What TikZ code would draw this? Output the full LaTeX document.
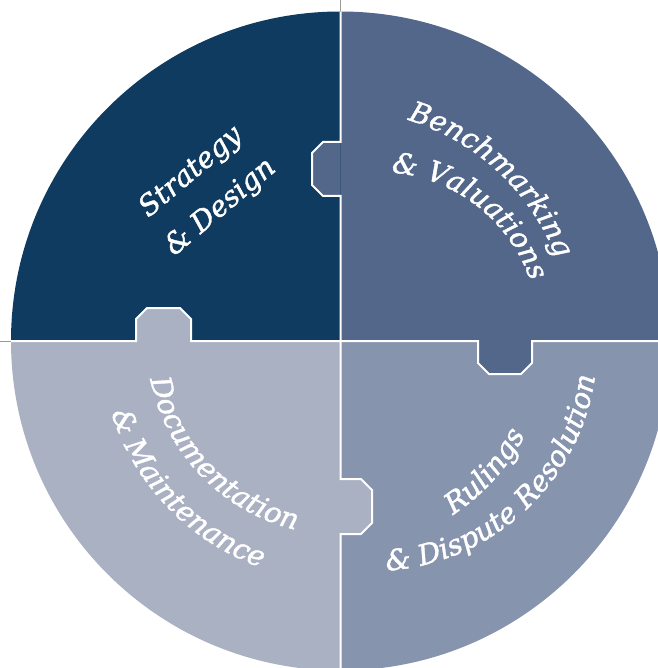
\documentclass[tikz,border=0pt]{standalone}
\usepackage{fontspec}
\setmainfont{DejaVu Serif}[ItalicFeatures={FakeBold=1.4}]
\usetikzlibrary{decorations.text}
\definecolor{strategy}{HTML}{103B60}
\definecolor{bench}{HTML}{526789}
\definecolor{docu}{HTML}{AAB1C3}
\definecolor{rulings}{HTML}{8794AE}
\definecolor{axis}{HTML}{9A9A9A}
\newcommand{\piecefont}{\itshape\fontsize{28.5}{46}\selectfont}
\tikzset{divider/.style={draw=white,line width=2pt}}
\tikzset{axisline/.style={draw=axis,line width=0.8pt}}
\tikzset{arclabel/.style={decorate,decoration={text along path,text color=white,text align=center}}}

\begin{document}
\begin{tikzpicture}[x=1pt,y=1pt]
    \useasboundingbox (0,0) rectangle (657,-668);
    \coordinate (O) at (340.5,-341);
    \coordinate (V) at (378,-333);
    \coordinate (R) at (372,-346);

    \draw[axisline] (340.5,0) -- (340.5,-668);
    \draw[axisline] (0,-341) -- (657,-341);

    \begin{scope}
    \clip (O) circle (329.5);
    \fill[strategy] (0,0) rectangle (O);
    \fill[bench] (O) rectangle (700,0);
    \fill[docu] (O) rectangle (0,-700);
    \fill[rulings] (O) rectangle (700,-700);

    % tabs
    \fill[bench] (340.5,-142) -- (323,-142) -- (312,-153) -- (312,-185) -- (323,-196) -- (340.5,-196) -- cycle;
    \fill[docu] (136,-341) -- (136,-319) -- (147,-308) -- (180,-308) -- (191,-319) -- (191,-341) -- cycle;
    \fill[bench] (478,-341) -- (478,-363) -- (489,-374) -- (521,-374) -- (532,-363) -- (532,-341) -- cycle;
    \fill[docu] (340.5,-479) -- (361,-479) -- (372,-490) -- (372,-523) -- (361,-534) -- (340.5,-534) -- cycle;

    \draw[divider] (340.5,0) -- (340.5,-142) -- (323,-142) -- (312,-153) -- (312,-185) -- (323,-196) -- (340.5,-196) -- (O);
    \draw[divider] (0,-341) -- (136,-341) -- (136,-319) -- (147,-308) -- (180,-308) -- (191,-319) -- (191,-341) -- (O);
    \draw[divider] (O) -- (478,-341) -- (478,-363) -- (489,-374) -- (521,-374) -- (532,-363) -- (532,-341) -- (700,-341);
    \draw[divider] (O) -- (340.5,-479) -- (361,-479) -- (372,-490) -- (372,-523) -- (361,-534) -- (340.5,-534) -- (340.5,-700);
    \end{scope}

    \node[rotate=40,text=white,font=\piecefont,align=center] (strat) at (206,-190) {Strategy\\{\&} Design};

    \path[arclabel,decoration={text={|\piecefont|Benchmarking}}] ([shift={(85:231)}]O) arc[start angle=85,end angle=9,radius=231];
    \path[arclabel,decoration={text={|\piecefont|{\&} Valuations}}] ([shift={(100:161)}]V) arc[start angle=100,end angle=4,radius=161];

    \path[arclabel,decoration={text={|\piecefont|Documentation}}] ([shift={(180:194)}]O) arc[start angle=180,end angle=268,radius=194];
    \path[arclabel,decoration={text={|\piecefont|{\&} Maintenance}}] ([shift={(180:240)}]O) arc[start angle=180,end angle=268,radius=240];

    \path[arclabel,decoration={text={|\piecefont|Rulings}}] ([shift={(280:207)}]O) arc[start angle=280,end angle=356,radius=207];
    \path[arclabel,decoration={text={|\piecefont|{\&} Dispute Resolution}}] ([shift={(268:225)}]R) arc[start angle=268,end angle=358,radius=225];
\end{tikzpicture}
\end{document}
